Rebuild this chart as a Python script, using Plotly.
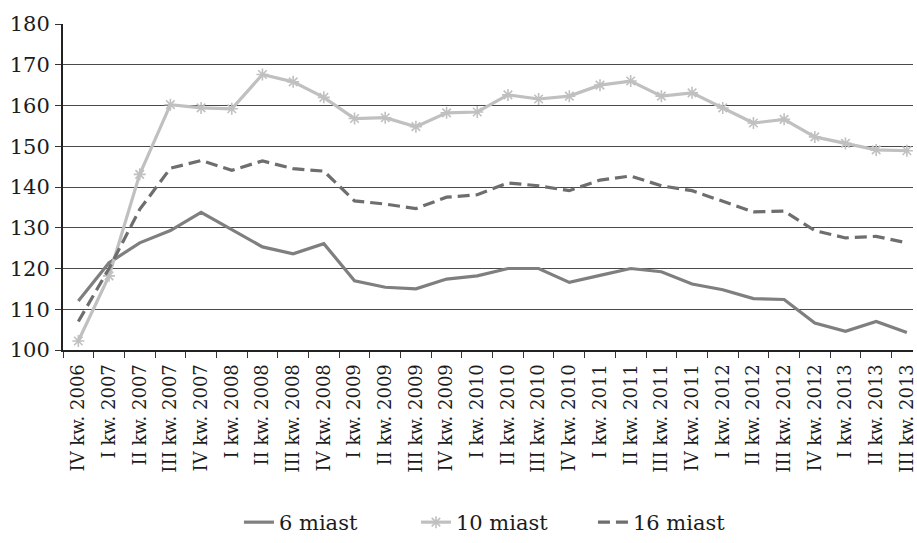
import plotly.graph_objects as go

# Quarter labels (x axis)
quarters = [
    "IV kw. 2006",
    "I kw. 2007", "II kw. 2007", "III kw. 2007", "IV kw. 2007",
    "I kw. 2008", "II kw. 2008", "III kw. 2008", "IV kw. 2008",
    "I kw. 2009", "II kw. 2009", "III kw. 2009", "IV kw. 2009",
    "I kw. 2010", "II kw. 2010", "III kw. 2010", "IV kw. 2010",
    "I kw. 2011", "II kw. 2011", "III kw. 2011", "IV kw. 2011",
    "I kw. 2012", "II kw. 2012", "III kw. 2012", "IV kw. 2012",
    "I kw. 2013", "II kw. 2013", "III kw. 2013",
]

# Index values for each group of cities
miast_6 = [112.0, 121.4, 126.3, 129.3, 133.8, 129.5, 125.3, 123.6, 126.1,
           117.0, 115.4, 115.0, 117.4, 118.2, 120.0, 120.0, 116.6, 118.3,
           120.0, 119.2, 116.2, 114.8, 112.6, 112.4, 106.6, 104.6, 107.0, 104.3]
miast_10 = [102.2, 118.2, 143.1, 160.2, 159.4, 159.2, 167.6, 165.8, 162.0,
            156.8, 157.0, 154.8, 158.2, 158.4, 162.6, 161.6, 162.3, 165.0,
            166.0, 162.3, 163.1, 159.4, 155.7, 156.6, 152.3, 150.7, 149.1, 148.9]
miast_16 = [107.0, 120.0, 134.5, 144.6, 146.5, 144.1, 146.4, 144.5, 143.9,
            136.6, 135.8, 134.7, 137.5, 138.1, 141.0, 140.3, 139.1, 141.7,
            142.7, 140.3, 139.1, 136.6, 133.9, 134.1, 129.3, 127.5, 127.9, 126.3]

FONT = "DejaVu Serif"
TEXT = "#1c1c1c"

fig = go.Figure()
fig.add_trace(go.Scatter(
    x=quarters, y=miast_6, name="6 miast", mode="lines",
    line=dict(color="#7f7f7f", width=3.2),
))
fig.add_trace(go.Scatter(
    x=quarters, y=miast_10, name="10 miast", mode="lines+markers",
    line=dict(color="#c0c0c0", width=3.2),
    marker=dict(symbol="asterisk-open", size=10,
                line=dict(color="#bdbdbd", width=1.6)),
))
fig.add_trace(go.Scatter(
    x=quarters, y=miast_16, name="16 miast", mode="lines",
    line=dict(color="#6e6e6e", width=3.2, dash="12px,6px"),
))

fig.update_layout(
    width=917, height=543,
    margin=dict(l=63, r=0, t=24, b=187),
    paper_bgcolor="white", plot_bgcolor="white",
    font=dict(family=FONT, color=TEXT),
    showlegend=True,
    legend=dict(
        orientation="h", x=0.207, xanchor="left", y=-0.53, yanchor="middle",
        font=dict(family=FONT, size=21, color=TEXT),
        entrywidth=132, entrywidthmode="pixels", tracegroupgap=0,
    ),
    xaxis=dict(
        type="category", range=[-0.5, 27.2],
        showgrid=False, tickson="boundaries",
        ticks="outside", ticklen=6, tickcolor="#333333", tickwidth=1,
        showline=True, linecolor="#222222", linewidth=2,
        tickangle=-90, tickfont=dict(family=FONT, size=18, color=TEXT),
        ticklabelstandoff=5,
    ),
    yaxis=dict(
        range=[100, 180], tickvals=[100, 110, 120, 130, 140, 150, 160, 170, 180],
        showgrid=True, gridcolor="#4a4a4a", gridwidth=1,
        ticks="outside", ticklen=6, tickcolor="#333333", tickwidth=1,
        showline=True, linecolor="#222222", linewidth=2,
        zeroline=False,
        tickfont=dict(family=FONT, size=21, color=TEXT),
        ticklabelstandoff=1,
    ),
)

fig.write_html("out.html")
